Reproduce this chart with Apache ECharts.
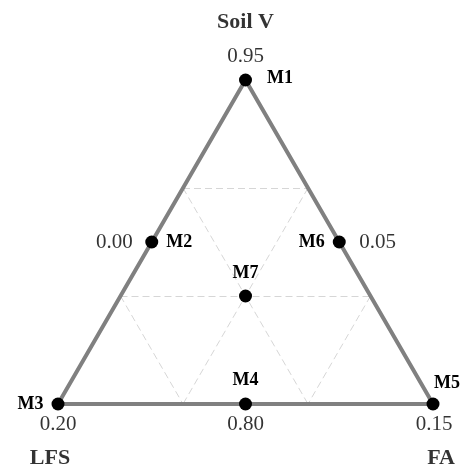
<!DOCTYPE html>
<html>
<head>
<meta charset="utf-8">
<script src="https://cdn.jsdelivr.net/npm/echarts@6/dist/echarts.min.js"></script>
<style>
html,body{margin:0;padding:0;background:#fff;}
#chart{width:462px;height:472px;}
</style>
</head>
<body>
<div id="chart"></div>
<script>
// Components (ternary vertices): top, left, right
const componentNames = ['Soil V', 'LFS', 'FA'];
// Design points (mixture proportions)
const pointNames = ['M1', 'M2', 'M3', 'M4', 'M5', 'M6', 'M7'];
const soilV = [1, 0.5, 0, 0, 0, 0.5, 0.3333];
const lfs   = [0, 0.5, 1, 0.5, 0, 0, 0.3333];
const fa    = [0, 0, 0, 0.5, 1, 0.5, 0.3334];
// Value labels shown beside points
const valuePoints = ['M1', 'M2', 'M6', 'M3', 'M4', 'M5'];
const valueTexts  = ['0.95', '0.00', '0.05', '0.20', '0.80', '0.15'];

const S3 = Math.sqrt(3) / 2;
function toXY(a, b, c) { // a: top, b: left, c: right
  const s = a + b + c;
  a /= s; b /= s; c /= s;
  return [c + a / 2, a * S3];
}
const vertices = [toXY(1,0,0), toXY(0,1,0), toXY(0,0,1)];
const pts = pointNames.map((n, i) => toXY(soilV[i], lfs[i], fa[i]));

// lattice lines at 1/3 and 2/3
const lattice = [];
[1/3, 2/3].forEach(t => {
  lattice.push([toXY(t, 1 - t, 0), toXY(t, 0, 1 - t)]);
  lattice.push([toXY(1 - t, t, 0), toXY(0, t, 1 - t)]);
  lattice.push([toXY(1 - t, 0, t), toXY(0, 1 - t, t)]);
});

const serif = "'Liberation Serif','Times New Roman',serif";
const mLabel = {
  M1: {position: 'right', distance: 15, offset: [0, -2]},
  M2: {position: 'right', distance: 8},
  M3: {position: 'left', distance: 8},
  M4: {position: 'top', distance: 8},
  M5: {position: 'top', distance: 5, offset: [14, 0]},
  M6: {position: 'left', distance: 8},
  M7: {position: 'top', distance: 7}
};
const vLabel = {
  M1: {position: 'top', distance: 13},
  M2: {position: 'left', distance: 19},
  M6: {position: 'right', distance: 20},
  M3: {position: 'bottom', distance: 9},
  M4: {position: 'bottom', distance: 9},
  M5: {position: 'bottom', distance: 9, offset: [1, 0]}
};
const cLabel = [
  {position: 'top', distance: 47},
  {position: 'bottom', distance: 43, offset: [-8, 0]},
  {position: 'bottom', distance: 43, offset: [8, 0]}
];

const chart = echarts.init(document.getElementById('chart'));
chart.setOption({
  animation: false,
  grid: {left: 58, right: 29, top: 80, bottom: 68},
  xAxis: {type: 'value', min: 0, max: 1, show: false},
  yAxis: {type: 'value', min: 0, max: S3, show: false},
  series: [
    {
      type: 'lines', coordinateSystem: 'cartesian2d', z: 1,
      lineStyle: {color: '#d6d6d6', width: 1, type: [7, 4], opacity: 1},
      data: lattice.map(c => ({coords: c}))
    },
    {
      type: 'line', z: 2, symbol: 'none', clip: false,
      lineStyle: {color: '#808080', width: 4},
      data: [vertices[1], vertices[2], vertices[0], vertices[1]]
    },
    {
      type: 'scatter', z: 5, clip: false, symbolSize: 13,
      itemStyle: {color: '#000', opacity: 1},
      data: pointNames.map((n, i) => ({
        value: pts[i], name: n,
        label: Object.assign({show: true, formatter: n, fontFamily: serif,
          fontWeight: 'bold', fontSize: 18, color: '#000', lineHeight: 18}, mLabel[n])
      }))
    },
    {
      type: 'scatter', z: 4, clip: false, symbolSize: 0, silent: true,
      data: valuePoints.map((n, i) => ({
        value: pts[pointNames.indexOf(n)],
        label: Object.assign({show: true, formatter: valueTexts[i], fontFamily: serif,
          fontSize: 21, color: '#000', lineHeight: 22}, vLabel[n])
      }))
    },
    {
      type: 'scatter', z: 4, clip: false, symbolSize: 0, silent: true,
      data: componentNames.map((n, i) => ({
        value: vertices[i],
        label: Object.assign({show: true, formatter: n, fontFamily: serif,
          fontWeight: 'bold', fontSize: 22, color: '#000', lineHeight: 22}, cLabel[i])
      }))
    }
  ]
});
</script>
</body>
</html>
